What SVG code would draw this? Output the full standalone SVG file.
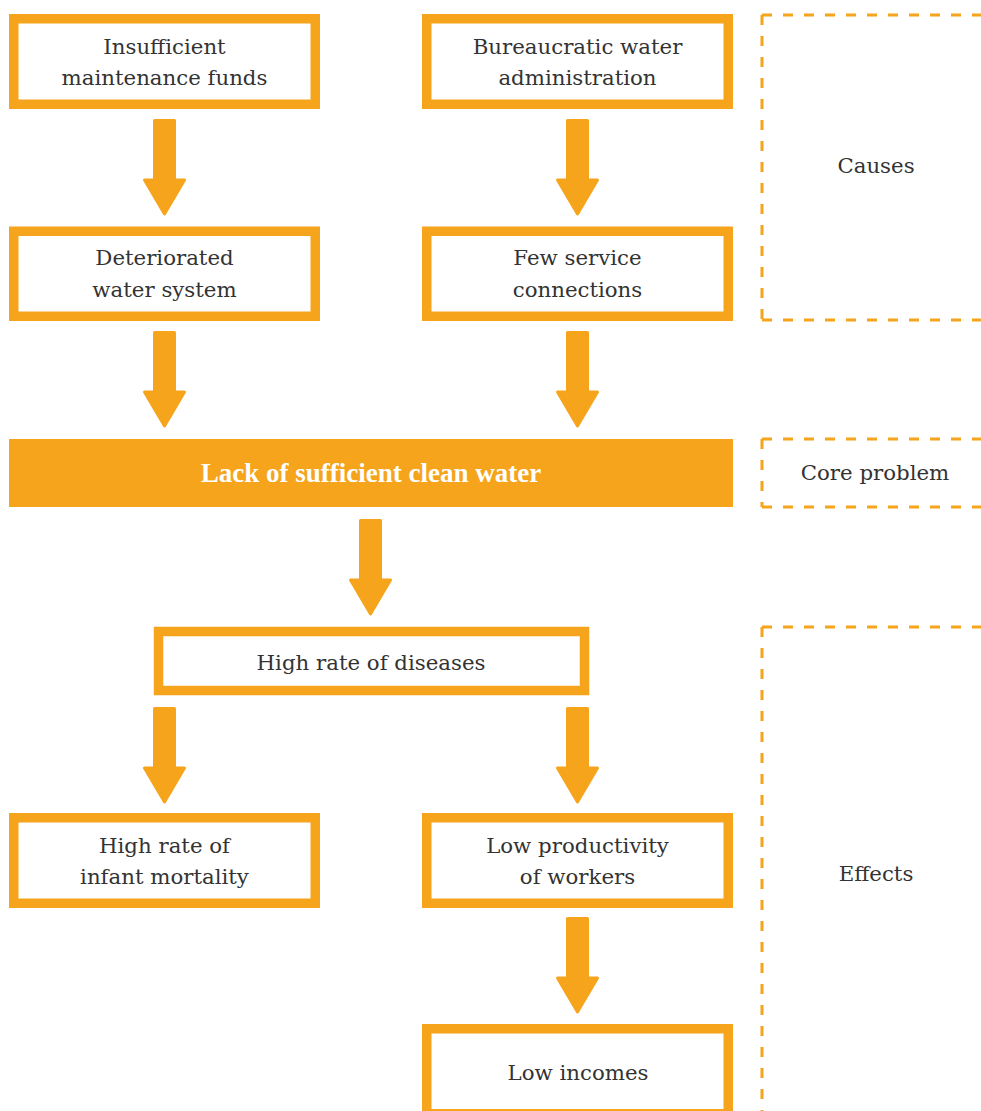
<svg xmlns="http://www.w3.org/2000/svg" xmlns:xlink="http://www.w3.org/1999/xlink" width="981" height="1111" viewBox="0 0 981 1111">
<style>
.box{fill:#ffffff;stroke:#F6A41B;stroke-width:9.5}
.core{fill:#F6A41B}
.t{font-family:"DejaVu Serif","Liberation Serif",serif;font-size:21.3px;fill:#333333;text-anchor:middle}
.tb{font-family:"Liberation Serif","DejaVu Serif",serif;font-weight:bold;font-size:27px;fill:#ffffff;text-anchor:middle}
.dash{fill:none;stroke:#F6A41B;stroke-width:3;stroke-dasharray:10 11}
.arrow{fill:#F6A41B;stroke:#F6A41B;stroke-width:3;stroke-linejoin:round}
</style>
<defs>
<path id="arr" class="arrow" d="M-10,1.5 H10 V61 H20 L0,95 L-20,61 H-10 Z"/>
</defs>
<rect width="981" height="1111" fill="#ffffff"/>
<g id="connectors">
<use xlink:href="#arr" href="#arr" transform="translate(164.5,119)"/>
<use xlink:href="#arr" href="#arr" transform="translate(577.5,119)"/>
<use xlink:href="#arr" href="#arr" transform="translate(164.5,331)"/>
<use xlink:href="#arr" href="#arr" transform="translate(577.5,331)"/>
<use xlink:href="#arr" href="#arr" transform="translate(370.5,519)"/>
<use xlink:href="#arr" href="#arr" transform="translate(164.5,707)"/>
<use xlink:href="#arr" href="#arr" transform="translate(577.5,707)"/>
<use xlink:href="#arr" href="#arr" transform="translate(577.5,917)"/>
</g>
<g id="n1">
<rect class="box" x="13.75" y="18.75" width="301.5" height="85.5"/>
<text class="t" x="164.5" y="54">Insufficient</text>
<text class="t" x="164.5" y="85">maintenance funds</text>
</g>
<g id="n2">
<rect class="box" x="426.75" y="18.75" width="301.5" height="85.5"/>
<text class="t" x="577.5" y="54">Bureaucratic water</text>
<text class="t" x="577.5" y="85">administration</text>
</g>
<g id="n3">
<rect class="box" x="13.75" y="231.25" width="301.5" height="85"/>
<text class="t" x="164.5" y="265">Deteriorated</text>
<text class="t" x="164.5" y="297">water system</text>
</g>
<g id="n4">
<rect class="box" x="426.75" y="231.25" width="301.5" height="85"/>
<text class="t" x="577.5" y="265">Few service</text>
<text class="t" x="577.5" y="297">connections</text>
</g>
<g id="core">
<rect class="core" x="9" y="439" width="724" height="68"/>
<text class="tb" x="371" y="482">Lack of sufficient clean water</text>
</g>
<g id="n5">
<rect class="box" x="158.5" y="631.5" width="426" height="59"/>
<text class="t" x="371" y="670">High rate of diseases</text>
</g>
<g id="n6">
<rect class="box" x="13.75" y="817.75" width="301.5" height="85.5"/>
<text class="t" x="164.5" y="853">High rate of</text>
<text class="t" x="164.5" y="884">infant mortality</text>
</g>
<g id="n7">
<rect class="box" x="426.75" y="817.75" width="301.5" height="85.5"/>
<text class="t" x="577.5" y="853">Low productivity</text>
<text class="t" x="577.5" y="884">of workers</text>
</g>
<g id="n8">
<rect class="box" x="426.75" y="1028.75" width="301.5" height="85"/>
<text class="t" x="578" y="1080">Low incomes</text>
</g>
<g id="causes">
<path class="dash" d="M762,15 H981"/>
<path class="dash" d="M762,15 V320"/>
<path class="dash" d="M762,320 H981"/>
<text class="t" x="876" y="173">Causes</text>
</g>
<g id="coreproblem">
<path class="dash" d="M762,439 H981"/>
<path class="dash" d="M762,439 V507"/>
<path class="dash" d="M762,507 H981"/>
<text class="t" x="875" y="480">Core problem</text>
</g>
<g id="effects">
<path class="dash" d="M762,627 H981"/>
<path class="dash" d="M762,627 V1111"/>
<text class="t" x="876" y="881">Effects</text>
</g>
</svg>
